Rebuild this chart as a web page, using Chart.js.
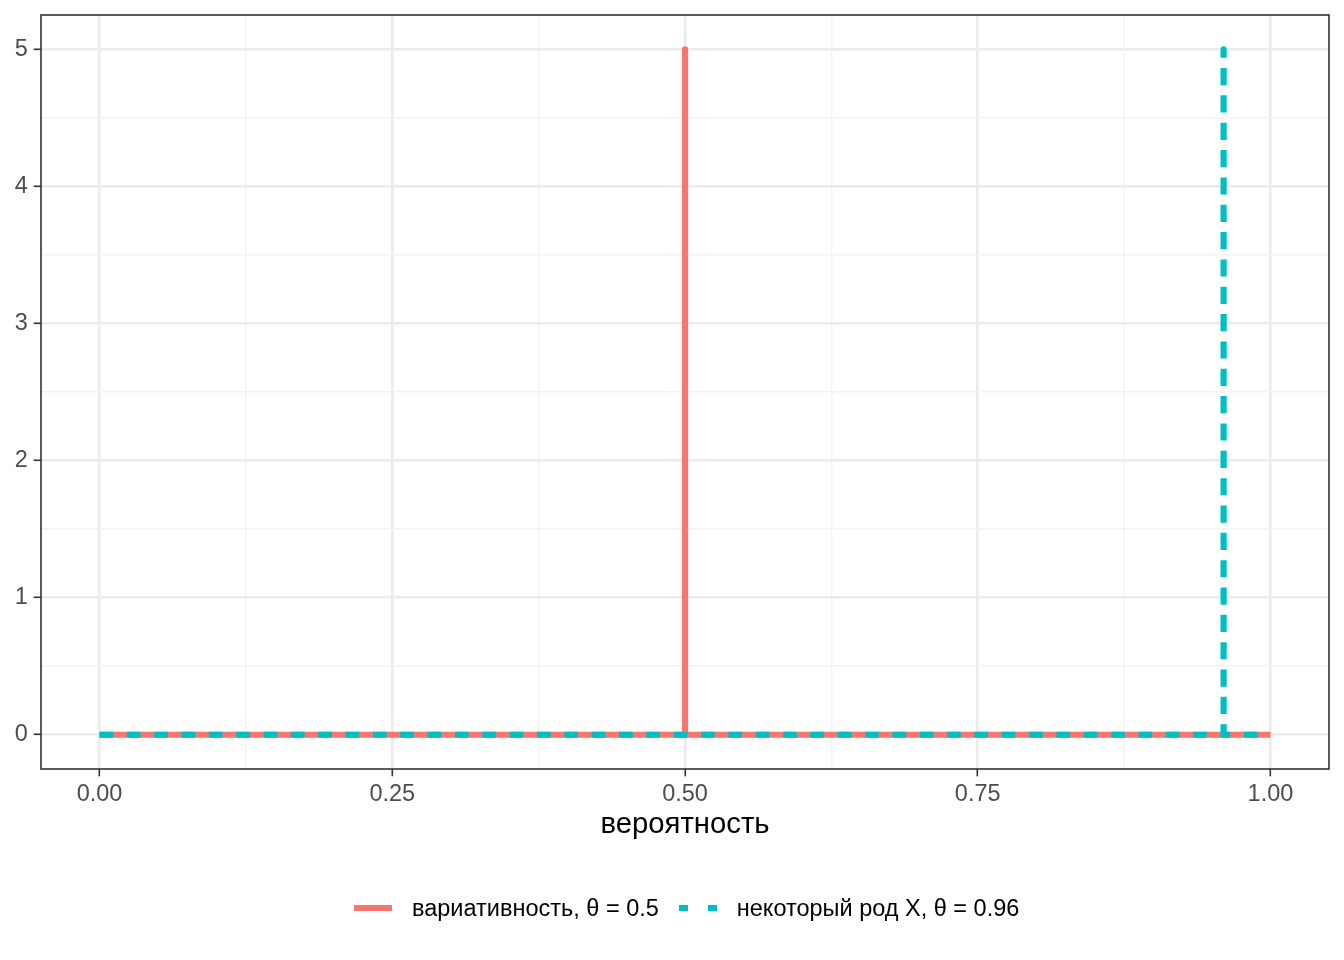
<!DOCTYPE html>
<html>
<head>
<meta charset="utf-8">
<script src="https://cdn.jsdelivr.net/npm/chart.js@4"></script>
<style>
  body { margin: 0; background: #fff; font-family: "Liberation Sans", Arial, sans-serif; }
  #wrap { position: relative; width: 1344px; height: 960px; }
  #legend { position: absolute; left: 354px; top: 894px; height: 28px; display: flex; align-items: center; font-size: 23.5px; color: #000; white-space: nowrap; }
  #legend svg { display: block; }
  .lbl { margin-left: 20px; margin-right: 20px; line-height: 28px; }
</style>
</head>
<body>
<div id="wrap">
  <canvas id="chart" width="1344" height="960"></canvas>
  <div id="legend">
    <svg width="38" height="8"><line x1="0" y1="4" x2="38" y2="4" stroke="#F8766D" stroke-width="6"/></svg>
    <span class="lbl">вариативность, θ = 0.5</span>
    <svg width="38" height="8"><line x1="0" y1="4" x2="38" y2="4" stroke="#00BFC4" stroke-width="6" stroke-dasharray="9 20"/></svg>
    <span class="lbl">некоторый род X, θ = 0.96</span>
  </div>
</div>
<script>
// --- data ---
const xMajor = [0, 0.25, 0.5, 0.75, 1];
const xMinor = [0.125, 0.375, 0.625, 0.875];
const yMajor = [0, 1, 2, 3, 4, 5];
const yMinor = [0.5, 1.5, 2.5, 3.5, 4.5];

const redX = [0, 0.5, 0.5, 0.5, 1];
const redY = [0, 0, 5, 0, 0];
const tealX = [0, 0.96, 0.96, 0.96, 1];
const tealY = [0, 0, 5, 0, 0];

const toPoints = (xs, ys) => xs.map((x, i) => ({ x: x, y: ys[i] }));

const tickFont = { family: '"Liberation Sans", Arial, sans-serif', size: 23.5 };
const isMajor = (list, v) => list.some(m => Math.abs(m - v) < 1e-9);

// panel border on top of everything (theme_bw)
const panelBorder = {
  id: 'panelBorder',
  afterDraw(chart) {
    const { ctx, chartArea: a } = chart;
    ctx.save();
    ctx.strokeStyle = '#333333';
    ctx.lineWidth = 1.6;
    ctx.strokeRect(a.left, a.top, a.right - a.left, a.bottom - a.top);
    ctx.restore();
  }
};

function gridOpts(major) {
  return {
    color: c => isMajor(major, c.tick.value) ? '#EBEBEB' : '#F3F3F3',
    lineWidth: c => isMajor(major, c.tick.value) ? 2.6 : 1.4,
    tickColor: c => isMajor(major, c.tick.value) ? '#333333' : 'rgba(0,0,0,0)',
    tickWidth: 1.6,
    tickLength: 7.3,
    drawTicks: true
  };
}

new Chart(document.getElementById('chart'), {
  type: 'scatter',
  data: {
    datasets: [
      {
        label: 'вариативность, θ = 0.5',
        data: toPoints(redX, redY),
        showLine: true,
        borderColor: '#F8766D',
        borderWidth: 6.2,
        borderCapStyle: 'butt',
        borderJoinStyle: 'round',
        pointRadius: 0,
        order: 2
      },
      {
        label: 'некоторый род X, θ = 0.96',
        data: toPoints(tealX, tealY),
        showLine: true,
        borderColor: '#00BFC4',
        borderWidth: 6.2,
        borderDash: [13.67, 13.67],
        borderCapStyle: 'butt',
        borderJoinStyle: 'round',
        pointRadius: 0,
        order: 1
      }
    ]
  },
  options: {
    responsive: false,
    animation: false,
    layout: { padding: { left: 0, top: 15, right: 15, bottom: 118 } },
    plugins: { legend: { display: false }, tooltip: { enabled: false } },
    scales: {
      x: {
        type: 'linear',
        min: -0.05,
        max: 1.05,
        afterBuildTicks: s => { s.ticks = xMajor.concat(xMinor).sort((a, b) => a - b).map(v => ({ value: v })); },
        afterFit: s => { s.height = 73; s.paddingLeft = 0; s.paddingRight = 0; },
        ticks: {
          autoSkip: false,
          maxRotation: 0,
          padding: 4,
          color: '#4D4D4D',
          font: tickFont,
          callback: v => isMajor(xMajor, v) ? v.toFixed(2) : ''
        },
        grid: gridOpts(xMajor),
        border: { display: false },
        title: {
          display: true,
          text: 'вероятность',
          color: '#000',
          padding: { top: 0, bottom: 0 },
          font: { family: '"Liberation Sans", Arial, sans-serif', size: 29.3 }
        }
      },
      y: {
        type: 'linear',
        min: -0.25,
        max: 5.25,
        afterBuildTicks: s => { s.ticks = yMajor.concat(yMinor).sort((a, b) => a - b).map(v => ({ value: v })); },
        afterFit: s => { s.width = 41; s.paddingTop = 0; s.paddingBottom = 0; },
        ticks: {
          autoSkip: false,
          padding: 6,
          color: '#4D4D4D',
          font: tickFont,
          callback: v => isMajor(yMajor, v) ? String(v) : ''
        },
        grid: gridOpts(yMajor),
        border: { display: false }
      }
    }
  },
  plugins: [panelBorder]
});
</script>
</body>
</html>
